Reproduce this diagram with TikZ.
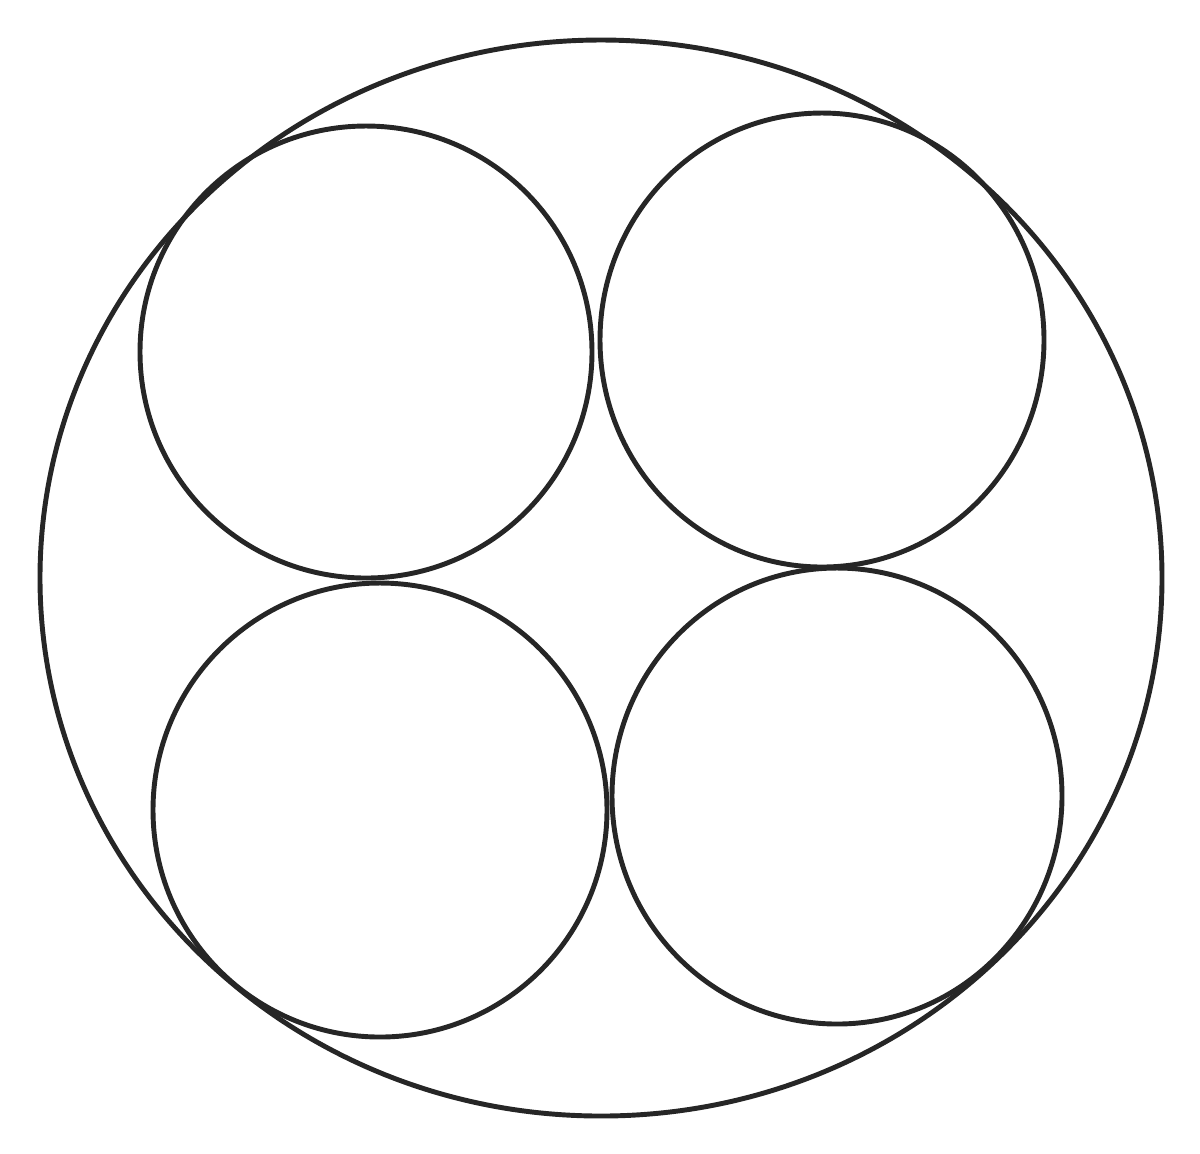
\documentclass[tikz,border=0pt]{standalone}
\begin{document}
\begin{tikzpicture}[x=0.01cm,y=-0.01cm,ring/.style={draw=black!85,line width=1.4pt}]
\useasboundingbox (0,0) rectangle (1200,1153);
\draw[ring] (601,578) ellipse [x radius=561,y radius=538];
\draw[ring] (366,352) circle [radius=226];
\draw[ring] (822,340) ellipse [x radius=222,y radius=227];
\draw[ring] (380,810) circle [radius=227];
\draw[ring] (837,796) ellipse [x radius=225,y radius=228];
\end{tikzpicture}
\end{document}
